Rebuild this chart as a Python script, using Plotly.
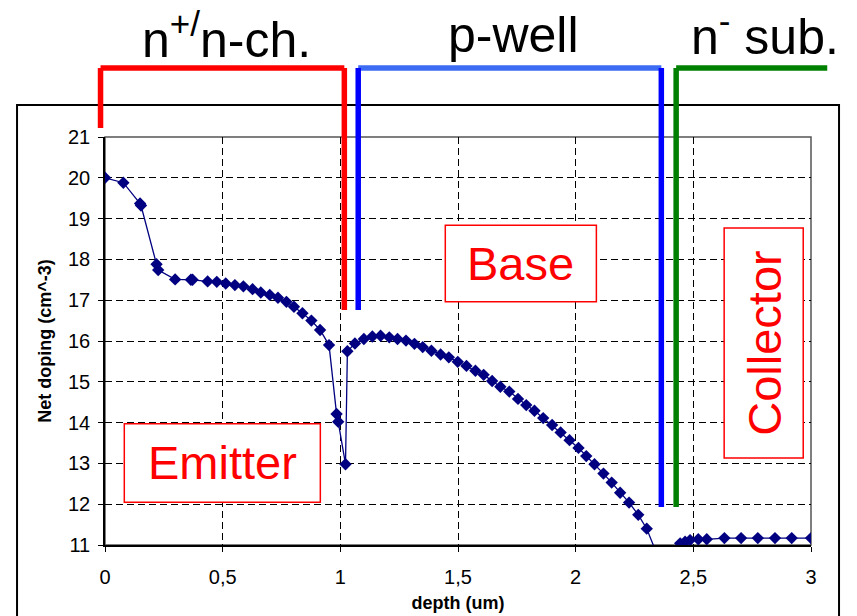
import plotly.graph_objects as go

# ---------------- data ----------------
depth = [0.0, 0.078, 0.149, 0.153, 0.219, 0.226, 0.298, 0.365, 0.372, 0.436,
         0.475, 0.513, 0.552, 0.588, 0.627, 0.662, 0.700, 0.735, 0.771, 0.803,
         0.839, 0.877, 0.914, 0.952, 0.984, 0.991, 1.022, 1.030, 1.062, 1.100,
         1.136, 1.171, 1.208, 1.243, 1.279, 1.315, 1.350, 1.387, 1.426, 1.461,
         1.499, 1.536, 1.574, 1.609, 1.645, 1.680, 1.718, 1.755, 1.790, 1.825,
         1.862, 1.900, 1.936, 1.974, 2.012, 2.045, 2.080, 2.118, 2.153, 2.189,
         2.227, 2.266, 2.302, 2.352, 2.444, 2.465, 2.486, 2.521, 2.557, 2.632,
         2.703, 2.774, 2.847, 2.918, 3.0]
net_doping = [20.0, 19.88, 19.37, 19.32, 17.88, 17.74, 17.51, 17.50, 17.50, 17.46,
              17.45, 17.41, 17.37, 17.34, 17.27, 17.19, 17.13, 17.06, 16.96, 16.84,
              16.68, 16.50, 16.27, 15.90, 14.21, 14.02, 12.98, 15.75, 15.94, 16.05,
              16.11, 16.13, 16.09, 16.05, 16.01, 15.93, 15.85, 15.76, 15.67, 15.60,
              15.49, 15.39, 15.27, 15.17, 15.02, 14.88, 14.76, 14.58, 14.43, 14.29,
              14.11, 13.94, 13.76, 13.57, 13.38, 13.18, 12.98, 12.75, 12.53, 12.28,
              12.04, 11.74, 11.40, 10.68, 11.04, 11.08, 11.12, 11.14, 11.14, 11.17,
              11.17, 11.17, 11.17, 11.17, 11.17]

x_tickvals = [0, 0.5, 1, 1.5, 2, 2.5, 3]
x_ticktext = ["0", "0,5", "1", "1,5", "2", "2,5", "3"]
y_tickvals = list(range(11, 22))
y_ticktext = [str(v) for v in y_tickvals]

# region brackets (depth range, colour, label)
regions = [
    {"x0": -0.019, "x1": 1.017, "left_bottom": 21.22, "right_bottom": 16.76,
     "color": "#FF0000", "top_color": "#FF0000", "label": "n<sup>+/</sup>n-ch.", "lx": 0.515, "ly": 23.48},
    {"x0": 1.076, "x1": 2.364, "left_bottom": 16.76, "right_bottom": 11.93,
     "color": "#0000FF", "top_color": "#3C6CF4", "label": "p-well", "lx": 1.735, "ly": 23.50},
    {"x0": 2.427, "x1": 3.069, "left_bottom": 11.93, "right_bottom": None,
     "color": "#008000", "top_color": "#008000", "label": "n<sup>-</sup> sub.", "lx": 2.806, "ly": 23.55},
]
bracket_top = 22.69

# labelled boxes
boxes = [
    {"text": "Emitter", "x0": 0.082, "x1": 0.915, "y0": 12.05, "y1": 13.97, "angle": 0},
    {"text": "Base", "x0": 1.446, "x1": 2.088, "y0": 16.96, "y1": 18.84, "angle": 0},
    {"text": "Collector", "x0": 2.631, "x1": 2.967, "y0": 13.13, "y1": 18.77, "angle": -90},
]

XMIN, XMAX, YMIN, YMAX = 0, 3, 11, 21
FONT = "Arial, Liberation Sans, sans-serif"


def px(x):
    return (x - XMIN) / (XMAX - XMIN)


def py(y):
    return (y - YMIN) / (YMAX - YMIN)


fig = go.Figure()
fig.add_trace(go.Scatter(
    x=depth, y=net_doping, mode="lines+markers",
    line=dict(color="#000080", width=1.3),
    marker=dict(symbol="diamond", size=9.5, color="#000080"),
    showlegend=False,
))

shapes = []
# outer chart frame
shapes.append(dict(type="rect", xref="paper", yref="paper",
                   x0=-0.1246, x1=1.0397, y0=-0.2, y1=1.0784,
                   line=dict(color="black", width=2), layer="below"))
# plot area border (top / right)
shapes.append(dict(type="rect", xref="paper", yref="paper", x0=0, x1=1, y0=0, y1=1,
                   line=dict(color="#555555", width=1.5), layer="below"))

annotations = []
for r in regions:
    lw = 5.5
    shapes.append(dict(type="line", xref="paper", yref="paper",
                       x0=px(r["x0"]), x1=px(r["x1"]), y0=py(bracket_top), y1=py(bracket_top),
                       line=dict(color=r["top_color"], width=lw)))
    shapes.append(dict(type="line", xref="paper", yref="paper",
                       x0=px(r["x0"]), x1=px(r["x0"]), y0=py(bracket_top), y1=py(r["left_bottom"]),
                       line=dict(color=r["color"], width=lw)))
    if r["right_bottom"] is not None:
        shapes.append(dict(type="line", xref="paper", yref="paper",
                           x0=px(r["x1"]), x1=px(r["x1"]), y0=py(bracket_top), y1=py(r["right_bottom"]),
                           line=dict(color=r["color"], width=lw)))
    annotations.append(dict(xref="paper", yref="paper", x=px(r["lx"]), y=py(r["ly"]),
                            text=r["label"], showarrow=False,
                            font=dict(family=FONT, size=50, color="black"),
                            xanchor="center", yanchor="middle"))

for b in boxes:
    shapes.append(dict(type="rect", xref="x", yref="y", x0=b["x0"], x1=b["x1"], y0=b["y0"], y1=b["y1"],
                       line=dict(color="#FF0000", width=1.5), fillcolor="white", layer="above"))
    annotations.append(dict(xref="x", yref="y", x=(b["x0"] + b["x1"]) / 2, y=(b["y0"] + b["y1"]) / 2,
                            text=b["text"], showarrow=False, textangle=b["angle"],
                            font=dict(family=FONT, size=47, color="#FF0000"),
                            xanchor="center", yanchor="middle"))

fig.update_layout(
    width=857, height=616,
    margin=dict(l=105, r=46, t=137, b=71),
    paper_bgcolor="white", plot_bgcolor="white",
    font=dict(family=FONT, color="black"),
    shapes=shapes, annotations=annotations,
    xaxis=dict(range=[XMIN, XMAX], tickvals=x_tickvals, ticktext=x_ticktext,
               showgrid=True, gridcolor="black", griddash="7px,4px", gridwidth=1,
               showline=True, linecolor="black", linewidth=1.5,
               ticks="outside", ticklen=5, tickcolor="black", automargin=False,
               tickfont=dict(size=20), zeroline=False, ticklabelstandoff=8,
               title=dict(text="<b>depth (um)</b>", font=dict(size=18), standoff=10)),
    yaxis=dict(range=[YMIN, YMAX], tickvals=y_tickvals, ticktext=y_ticktext,
               showgrid=True, gridcolor="black", griddash="7px,4px", gridwidth=1,
               showline=True, linecolor="black", linewidth=1.5,
               ticks="outside", ticklen=5, tickcolor="black", automargin=False,
               tickfont=dict(size=20), zeroline=False, ticklabelstandoff=4,
               title=dict(text="<b>Net doping (cm^-3)</b>", font=dict(size=18), standoff=12)),
)

fig.write_html("out.html")
